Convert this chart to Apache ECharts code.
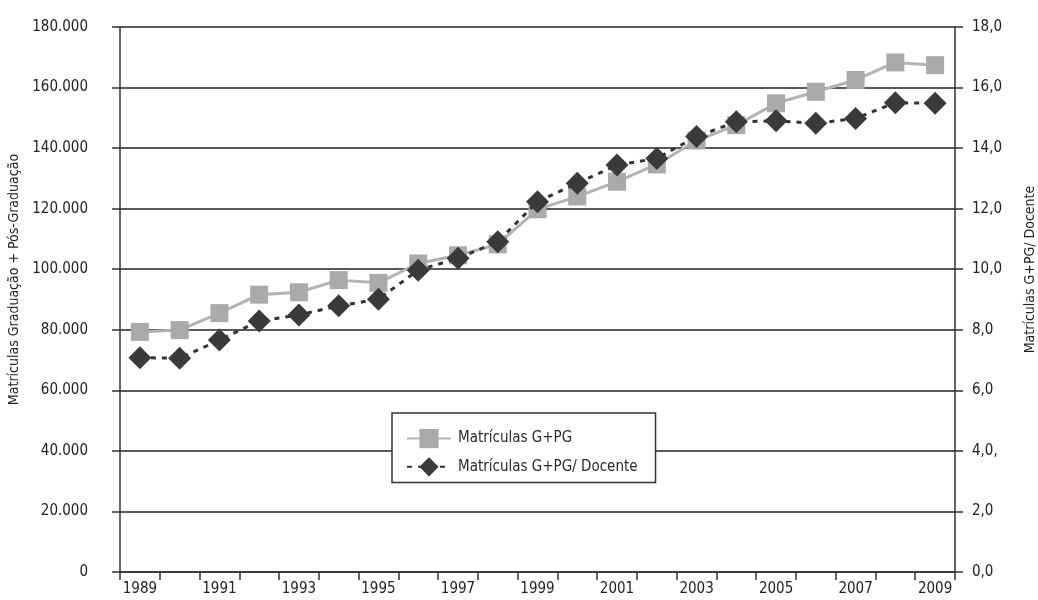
<!DOCTYPE html>
<html>
<head>
<meta charset="utf-8">
<script src="https://cdn.jsdelivr.net/npm/echarts@6/dist/echarts.min.js"></script>
<style>html,body{margin:0;padding:0;background:#fff}#c{width:1038px;height:600px}</style>
</head>
<body>
<div id="c"></div>
<script>
var years = ['1989','1990','1991','1992','1993','1994','1995','1996','1997','1998','1999','2000','2001','2002','2003','2004','2005','2006','2007','2008','2009'];
var matriculas = [79300, 79900, 85500, 91600, 92400, 96400, 95500, 101900, 104600, 108200, 119800, 124000, 128900, 134600, 142500, 147600, 154800, 158600, 162500, 168300, 167400];
var porDocente = [7.08, 7.06, 7.66, 8.29, 8.49, 8.79, 9.01, 9.97, 10.36, 10.91, 12.23, 12.84, 13.44, 13.66, 14.38, 14.87, 14.90, 14.82, 14.98, 15.50, 15.48];
var rightTickLabels = ['0,0','2,0','4,0,','6,0','8,0','10,0','12,0','14,0','16,0','18,0'];
var seriesNames = ['Matrículas G+PG', 'Matrículas G+PG/ Docente'];
var leftAxisTitle = 'Matrículas Graduação + Pós-Graduação';
var rightAxisTitle = 'Matrículas G+PG/ Docente';

var FONT = "'Liberation Sans Narrow', 'DejaVu Sans Condensed', 'Roboto Condensed', sans-serif";
var chart = echarts.init(document.getElementById('c'));
chart.setOption({
  animation: false,
  backgroundColor: '#fff',
  textStyle: {fontFamily: FONT},
  grid: {left: 120, right: 83, top: 27, bottom: 28, containLabel: false, outerBoundsMode: 'none'},
  legend: {
    left: 392, top: 413,
    orient: 'vertical',
    padding: [16, 18, 6, 14],
    itemGap: 9,
    itemWidth: 44, itemHeight: 24,
    backgroundColor: '#fff',
    borderColor: '#333', borderWidth: 1.5, borderRadius: 0,
    textStyle: {fontFamily: FONT, fontSize: 15, color: '#2a2a2a', padding: [0,0,0,2]},
    data: seriesNames
  },
  xAxis: {
    type: 'category',
    data: years,
    boundaryGap: true,
    axisLine: {lineStyle: {color: '#333', width: 1.5}},
    axisTick: {show: true, interval: 0, length: 8, lineStyle: {color: '#333', width: 1.5}},
    axisLabel: {interval: 1, margin: 10, fontSize: 15, color: '#222', fontFamily: FONT},
    splitLine: {show: false}
  },
  yAxis: [{
    type: 'value', min: 0, max: 180000, interval: 20000,
    name: leftAxisTitle, nameLocation: 'middle', nameRotate: 90, nameGap: 96,
    nameTextStyle: {fontFamily: FONT, fontSize: 14, color: '#222', padding: [0,0,0,40]},
    axisLine: {show: true, lineStyle: {color: '#333', width: 1.5}},
    axisTick: {show: true, length: 8, lineStyle: {color: '#333', width: 1.5}},
    axisLabel: {margin: 32, fontSize: 15, color: '#222', fontFamily: FONT,
      formatter: function(v){ return v === 0 ? '0' : String(v).replace(/\B(?=(\d{3})+(?!\d))/g, '.'); }},
    splitLine: {show: true, lineStyle: {color: '#222', width: 1.5}}
  }, {
    type: 'value', min: 0, max: 18, interval: 2, position: 'right',
    name: rightAxisTitle, nameLocation: 'middle', nameRotate: 90, nameGap: 68,
    nameTextStyle: {fontFamily: FONT, fontSize: 14, color: '#222', padding: [0,0,0,60]},
    axisLine: {show: true, lineStyle: {color: '#333', width: 1.5}},
    axisTick: {show: true, length: 8, lineStyle: {color: '#333', width: 1.5}},
    axisLabel: {margin: 17, fontSize: 15, color: '#222', fontFamily: FONT,
      formatter: function(v){ return rightTickLabels[Math.round(v/2)]; }},
    splitLine: {show: false}
  }],
  series: [{
    name: seriesNames[0], type: 'line', yAxisIndex: 0, data: matriculas,
    symbol: 'rect', symbolSize: 18,
    lineStyle: {color: '#b3b3b3', width: 3},
    itemStyle: {color: '#aaaaaa'},
    z: 2
  }, {
    name: seriesNames[1], type: 'line', yAxisIndex: 1, data: porDocente,
    symbol: 'diamond', symbolSize: 23,
    lineStyle: {color: '#333', width: 3, type: [5, 6]},
    itemStyle: {color: '#3a3a3a'},
    z: 3
  }]
});
</script>
</body>
</html>
